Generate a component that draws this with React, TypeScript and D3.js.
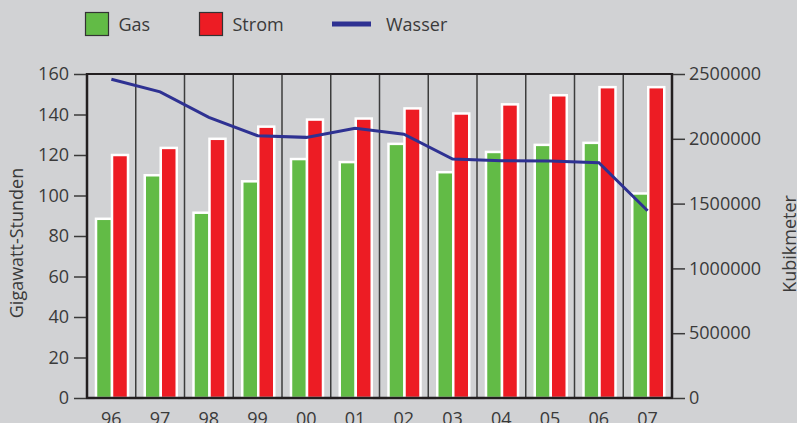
import React, { useEffect, useRef } from 'react';
import * as d3 from 'd3';

const years = ['96', '97', '98', '99', '00', '01', '02', '03', '04', '05', '06', '07'];
const gas = [88.5, 110, 91.5, 107, 118, 116.5, 125.5, 111.5, 121.5, 125, 126, 101];
const strom = [120, 123.5, 128, 134, 137.5, 138, 143, 140.5, 145, 149.5, 153.5, 153.5];
const wasser = [2460000, 2362000, 2166000, 2024000, 2011000, 2081000, 2035000, 1844000, 1830000, 1829000, 1816000, 1445000];
const leftTicks = [0, 20, 40, 60, 80, 100, 120, 140, 160];
const rightTicks = [0, 500000, 1000000, 1500000, 2000000, 2500000];

const W = 797;
const H = 423;
const FONT = '"Open Sans", sans-serif';
const TEXT = '#3a3a3a';
const DARK = '#231f20';

const App: React.FC = () => {
  const ref = useRef<SVGSVGElement | null>(null);

  useEffect(() => {
    if (!ref.current) return;
    const svg = d3.select(ref.current);
    svg.selectAll('*').remove();

    const margin = { top: 74, right: 125, bottom: 25, left: 87 };
    const x0 = margin.left;
    const x1 = W - margin.right;
    const yTop = margin.top;
    const yBot = H - margin.bottom;

    svg.append('rect').attr('width', W).attr('height', H).attr('fill', '#d1d2d4');

    const x = d3.scaleBand().domain(years).range([x0, x1]).padding(0);
    const xs = d3.scaleBand().domain(['gas', 'strom']).range([9, 41]).padding(0);
    const y = d3.scaleLinear().domain([0, 160]).range([yBot, yTop]);
    const y2 = d3.scaleLinear().domain([0, 2500000]).range([yBot, yTop]);

    // vertical dividers
    svg.append('g')
      .selectAll('line')
      .data(years.slice(1))
      .enter()
      .append('line')
      .attr('x1', d => x(d)!)
      .attr('x2', d => x(d)!)
      .attr('y1', yTop)
      .attr('y2', yBot)
      .attr('stroke', '#3c3c3c')
      .attr('stroke-width', 1.5);

    const rows = years.map((yr, i) => ({ yr, gas: gas[i], strom: strom[i] }));
    const groups = svg.append('g')
      .selectAll('g')
      .data(rows)
      .enter()
      .append('g')
      .attr('transform', d => `translate(${x(d.yr)},0)`);

    groups.append('rect')
      .attr('x', xs('gas')!)
      .attr('width', xs.bandwidth())
      .attr('y', d => y(d.gas))
      .attr('height', d => yBot - y(d.gas))
      .attr('fill', '#62bb46')
      .attr('stroke', '#fff')
      .attr('stroke-width', 2.5);

    groups.append('rect')
      .attr('x', xs('strom')!)
      .attr('width', xs.bandwidth())
      .attr('y', d => y(d.strom))
      .attr('height', d => yBot - y(d.strom))
      .attr('fill', '#ed1c24')
      .attr('stroke', '#fff')
      .attr('stroke-width', 2.5);

    // frame
    svg.append('line').attr('x1', x0).attr('x2', x1).attr('y1', yTop).attr('y2', yTop)
      .attr('stroke', DARK).attr('stroke-width', 2);
    svg.append('line').attr('x1', x0 - 1).attr('x2', x1 + 1).attr('y1', yBot).attr('y2', yBot)
      .attr('stroke', DARK).attr('stroke-width', 2.5);
    svg.append('line').attr('x1', x0).attr('x2', x0).attr('y1', yTop - 1).attr('y2', yBot)
      .attr('stroke', DARK).attr('stroke-width', 2.5);
    svg.append('line').attr('x1', x1).attr('x2', x1).attr('y1', yTop - 1).attr('y2', yBot)
      .attr('stroke', DARK).attr('stroke-width', 2.5);

    // Wasser line
    const line = d3.line<number>()
      .x((_, i) => x(years[i])! + x.bandwidth() / 2)
      .y(d => y2(d));
    svg.append('path')
      .datum(wasser)
      .attr('d', line)
      .attr('fill', 'none')
      .attr('stroke', '#2e3192')
      .attr('stroke-width', 3);

    // axes
    const left = svg.append('g')
      .attr('transform', `translate(${x0 - 1},0)`)
      .call(d3.axisLeft(y).tickValues(leftTicks).tickSize(12).tickPadding(5));
    const right = svg.append('g')
      .attr('transform', `translate(${x1 + 1},0)`)
      .call(d3.axisRight(y2).tickValues(rightTicks).tickSize(12).tickPadding(4).tickFormat(d3.format('d')));
    [left, right].forEach(a => {
      a.select('.domain').remove();
      a.selectAll('line').attr('stroke', '#3a3a3a').attr('stroke-width', 1.5);
      a.selectAll('text').attr('fill', TEXT).style('font-family', FONT).style('font-size', '18px');
    });

    svg.append('g')
      .selectAll('text')
      .data(years)
      .enter()
      .append('text')
      .attr('x', d => x(d)! + x.bandwidth() / 2)
      .attr('y', 425)
      .attr('text-anchor', 'middle')
      .attr('fill', TEXT)
      .style('font-family', FONT)
      .style('font-size', '18px')
      .text(d => d);

    svg.append('text')
      .attr('transform', `translate(23,${(yTop + yBot) / 2 + 7}) rotate(-90)`)
      .attr('text-anchor', 'middle')
      .attr('fill', TEXT)
      .style('font-family', FONT)
      .style('font-size', '18px')
      .text('Gigawatt-Stunden');

    svg.append('text')
      .attr('transform', `translate(796,${(yTop + yBot) / 2 + 8}) rotate(-90)`)
      .attr('text-anchor', 'middle')
      .attr('fill', TEXT)
      .style('font-family', FONT)
      .style('font-size', '18px')
      .text('Kubikmeter');

    // legend
    const legend = svg.append('g');
    const items = [
      { label: 'Gas', color: '#62bb46', x: 85.5 },
      { label: 'Strom', color: '#ed1c24', x: 199.5 },
    ];
    items.forEach(it => {
      legend.append('rect')
        .attr('x', it.x).attr('y', 12.5).attr('width', 23).attr('height', 23)
        .attr('fill', it.color).attr('stroke', '#333').attr('stroke-width', 1.2);
      legend.append('text')
        .attr('x', it.x + 33).attr('y', 31)
        .attr('fill', TEXT)
        .style('font-family', FONT).style('font-size', '18px')
        .text(it.label);
    });
    legend.append('line')
      .attr('x1', 332).attr('x2', 371).attr('y1', 24).attr('y2', 24)
      .attr('stroke', '#2e3192').attr('stroke-width', 5);
    legend.append('text')
      .attr('x', 386).attr('y', 31)
      .attr('fill', TEXT)
      .style('font-family', FONT).style('font-size', '18px')
      .text('Wasser');
  }, []);

  return (
    <svg
      ref={ref}
      width={W}
      height={H}
      style={{ position: 'absolute', left: 0, top: 0, display: 'block' }}
    />
  );
};

export default App;
